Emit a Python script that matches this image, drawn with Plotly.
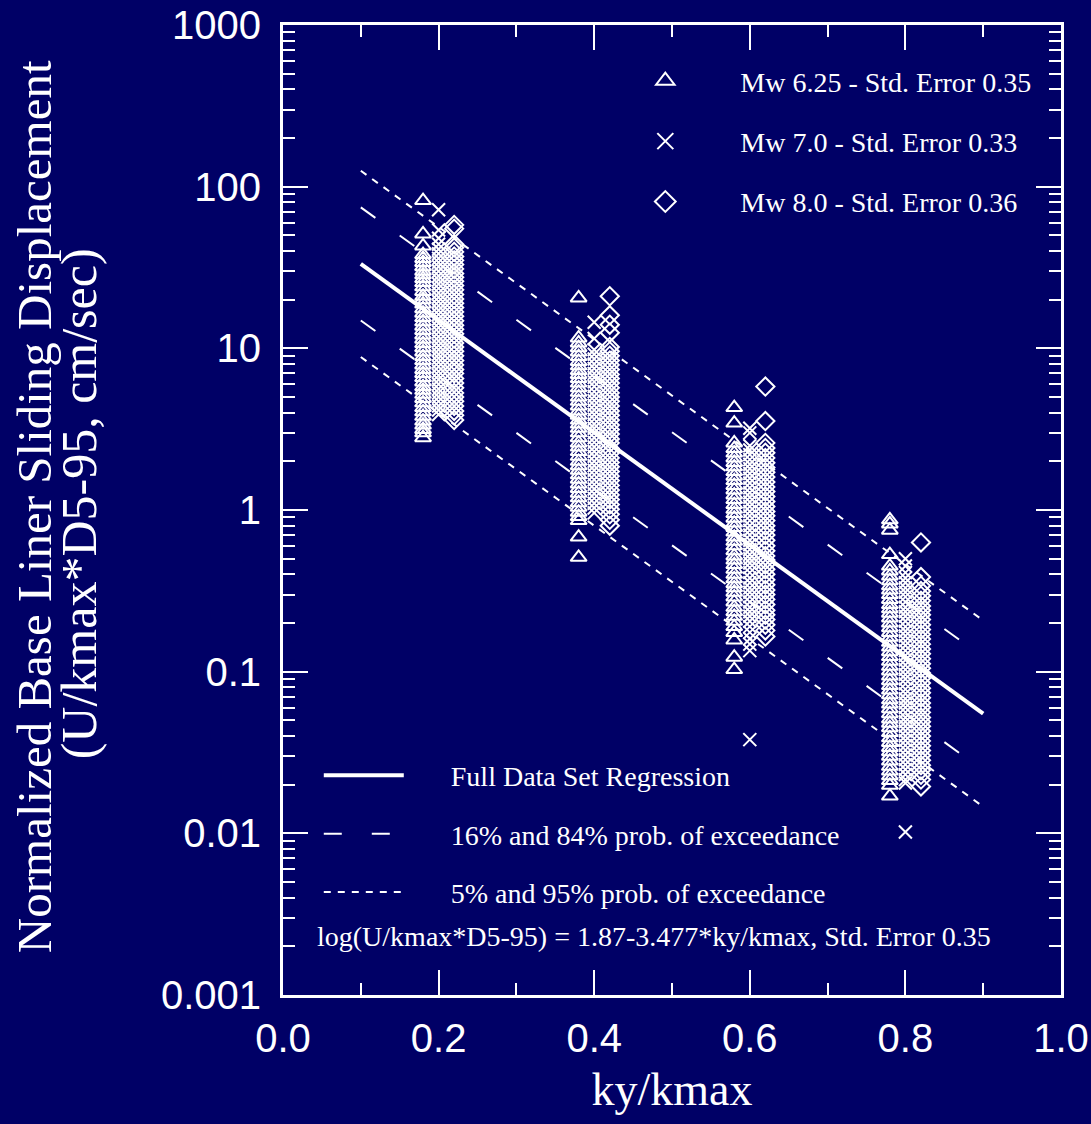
import plotly.graph_objects as go

# ---------------- data ----------------
# Mw 6.25 (triangles)
x_mw625 = [0.18, 0.38, 0.58, 0.78]
y_mw625 = [
    [82, 51, 43, 38, 36, 34, 32, 30, 28.5, 27, 25.5, 24, 22.5, 21, 20, 18.8, 17.6, 16.5, 15.5,
     14.6, 13.7, 12.9, 12.1, 11.4, 10.7, 10.1, 9.5, 8.9, 8.4, 7.9, 7.4, 7.0, 6.6, 6.2, 5.8, 5.5,
     5.2, 4.9, 4.6, 4.3, 4.05, 3.8, 3.55, 3.35, 3.15, 3.0, 2.8],
    [20.5, 11.6, 10.8, 10.1, 9.5, 8.9, 8.3, 7.8, 7.3, 6.9, 6.5, 6.1, 5.7, 5.35, 5.0, 4.7, 4.4,
     4.1, 3.85, 3.6, 3.4, 3.2, 3.0, 2.8, 2.6, 2.45, 2.3, 2.15, 2.0, 1.88, 1.76, 1.65, 1.55, 1.45,
     1.36, 1.27, 1.19, 1.11, 1.04, 0.97, 0.91, 0.86, 0.68, 0.51],
    [4.3, 3.45, 2.6, 2.4, 2.25, 2.1, 1.97, 1.85, 1.73, 1.62, 1.52, 1.42, 1.33, 1.24, 1.16, 1.08,
     1.01, 0.95, 0.89, 0.83, 0.78, 0.73, 0.68, 0.64, 0.6, 0.56, 0.52, 0.49, 0.46, 0.43, 0.4,
     0.375, 0.35, 0.33, 0.31, 0.29, 0.27, 0.25, 0.235, 0.22, 0.205, 0.19, 0.175, 0.157, 0.123,
     0.103],
    [0.87, 0.82, 0.75, 0.53, 0.45, 0.42, 0.39, 0.365, 0.34, 0.32, 0.3, 0.28, 0.26, 0.245, 0.23,
     0.215, 0.2, 0.187, 0.175, 0.163, 0.152, 0.142, 0.133, 0.124, 0.116, 0.108, 0.101, 0.094,
     0.088, 0.082, 0.077, 0.072, 0.067, 0.063, 0.059, 0.055, 0.051, 0.048, 0.045, 0.042, 0.039,
     0.0365, 0.034, 0.032, 0.03, 0.028, 0.026, 0.0243, 0.0227, 0.0212, 0.0198, 0.017],
]
# Mw 7.0 (crosses)
x_mw70 = [0.20, 0.40, 0.60, 0.80]
y_mw70 = [
    [72, 54, 48, 44, 41, 38.5, 36, 34, 32, 30, 28, 26.5, 25, 23.5, 22, 20.7, 19.5, 18.3, 17.2,
     16.2, 15.2, 14.3, 13.4, 12.6, 11.8, 11.1, 10.4, 9.8, 9.2, 8.7, 8.2, 7.7, 7.2, 6.8, 6.4, 6.0,
     5.6, 5.3, 5.0, 4.7, 4.4, 4.15, 3.9],
    [14.5, 11.5, 9.8, 9.2, 8.6, 8.0, 7.5, 7.0, 6.6, 6.2, 5.8, 5.4, 5.05, 4.75, 4.45, 4.15, 3.9,
     3.65, 3.4, 3.2, 3.0, 2.8, 2.62, 2.45, 2.3, 2.15, 2.0, 1.88, 1.76, 1.65, 1.54, 1.44, 1.35,
     1.26, 1.18, 1.1, 1.03, 0.96],
    [3.2, 3.0, 2.5, 2.35, 2.2, 2.05, 1.92, 1.8, 1.68, 1.57, 1.47, 1.37, 1.28, 1.2, 1.12, 1.05,
     0.98, 0.92, 0.86, 0.8, 0.75, 0.7, 0.65, 0.61, 0.57, 0.53, 0.5, 0.47, 0.44, 0.41, 0.38,
     0.355, 0.33, 0.31, 0.29, 0.27, 0.25, 0.235, 0.22, 0.205, 0.19, 0.175, 0.16, 0.148, 0.135,
     0.038],
    [0.5, 0.45, 0.41, 0.38, 0.355, 0.33, 0.31, 0.29, 0.27, 0.25, 0.235, 0.22, 0.205, 0.19, 0.178,
     0.166, 0.155, 0.145, 0.135, 0.126, 0.118, 0.11, 0.103, 0.096, 0.09, 0.084, 0.078, 0.073,
     0.068, 0.064, 0.06, 0.056, 0.052, 0.049, 0.046, 0.043, 0.04, 0.0375, 0.035, 0.0327, 0.0305,
     0.0285, 0.0266, 0.0248, 0.0231, 0.0215, 0.0205, 0.0102],
]
# Mw 8.0 (diamonds)
x_mw80 = [0.22, 0.42, 0.62, 0.82]
y_mw80 = [
    [58, 55, 44, 42, 39.5, 37, 35, 33, 31, 29, 27.5, 26, 24.5, 23, 21.5, 20.2, 19, 17.9, 16.8,
     15.8, 14.8, 13.9, 13.1, 12.3, 11.5, 10.8, 10.2, 9.6, 9.0, 8.4, 7.9, 7.4, 7.0, 6.5, 6.1, 5.7,
     5.3, 5.0, 4.7, 4.4, 4.1, 3.85, 3.6],
    [21, 16, 14, 12.5, 10.2, 9.6, 9.0, 8.4, 7.9, 7.4, 6.9, 6.5, 6.1, 5.7, 5.3, 5.0, 4.7, 4.4,
     4.1, 3.85, 3.6, 3.35, 3.15, 2.95, 2.75, 2.6, 2.4, 2.25, 2.1, 1.97, 1.85, 1.73, 1.62, 1.52,
     1.42, 1.33, 1.24, 1.16, 1.08, 1.01, 0.94, 0.87, 0.8],
    [5.8, 3.55, 2.6, 2.42, 2.26, 2.1, 1.96, 1.83, 1.71, 1.6, 1.49, 1.39, 1.3, 1.21, 1.13, 1.05,
     0.98, 0.92, 0.86, 0.8, 0.75, 0.7, 0.65, 0.6, 0.56, 0.52, 0.49, 0.46, 0.43, 0.4, 0.37, 0.345,
     0.32, 0.3, 0.28, 0.26, 0.24, 0.225, 0.21, 0.195, 0.18, 0.165],
    [0.63, 0.385, 0.34, 0.315, 0.295, 0.275, 0.255, 0.24, 0.225, 0.21, 0.195, 0.182, 0.17, 0.159,
     0.148, 0.138, 0.129, 0.12, 0.112, 0.105, 0.098, 0.091, 0.085, 0.079, 0.074, 0.069, 0.064,
     0.06, 0.056, 0.052, 0.049, 0.046, 0.043, 0.04, 0.0373, 0.0348, 0.0325, 0.0303, 0.0283,
     0.0264, 0.0246, 0.023, 0.0215, 0.0195],
]

# regression and probability bands (end points, x = 0.1 and 0.9)
line_x = [0.1, 0.9]
reg_y = [33.29, 0.0550]
p84_y = [74.5, 0.1232]
p16_y = [14.87, 0.02458]
p95_y = [125.4, 0.2073]
p05_y = [8.84, 0.01462]

y_tickvals = [0.001, 0.01, 0.1, 1, 10, 100, 1000]
y_ticktext = ["0.001", "0.01", "0.1", "1", "10", "100", "1000"]

series_names = ["Mw 6.25 - Std. Error 0.35", "Mw 7.0 - Std. Error 0.33", "Mw 8.0 - Std. Error 0.36"]
line_names = ["Full Data Set Regression", "16% and 84% prob. of exceedance",
              "5% and 95% prob. of exceedance"]
equation = "log(U/kmax*D5-95) = 1.87-3.477*ky/kmax, Std. Error 0.35"
y_title_lines = ["Normalized Base Liner Sliding Displacement", "(U/kmax*D5-95, cm/sec)"]
x_title = "ky/kmax"

# ---------------- figure ----------------
BG = "#000066"
SERIF = "Liberation Serif, Times New Roman, serif"
SANS = "Liberation Sans, Arial, sans-serif"
PAD = "\u00a0" * 6


def expand(xs, ys):
    X, Y = [], []
    for x, col in zip(xs, ys):
        X += [x] * len(col)
        Y += col
    return X, Y


fig = go.Figure()
symbols = ["triangle-up-open", "x-thin-open", "diamond-open"]
sizes = [14, 13, 14]
for i, (xs, ys) in enumerate([(x_mw625, y_mw625), (x_mw70, y_mw70), (x_mw80, y_mw80)]):
    X, Y = expand(xs, ys)
    fig.add_trace(go.Scatter(
        x=X, y=Y, mode="markers", name=series_names[i], legendgroup=f"g{i}", legend="legend",
        showlegend=False,
        marker=dict(symbol=symbols[i], size=sizes[i], color="white",
                    line=dict(color="white", width=2)),
    ))
    # legend key (same series, larger symbol in the key)
    fig.add_trace(go.Scatter(
        x=[None], y=[None], mode="markers", name=series_names[i], legendgroup=f"g{i}",
        legend="legend",
        marker=dict(symbol=symbols[i], size=30, color="white",
                    line=dict(color="white", width=2)),
    ))

fig.add_trace(go.Scatter(x=line_x, y=reg_y, mode="lines", name=PAD + line_names[0],
                         legend="legend2", legendgroup="r",
                         line=dict(color="white", width=4)))
fig.add_trace(go.Scatter(x=line_x, y=p84_y, mode="lines", name=PAD + line_names[1],
                         legend="legend2", legendgroup="a",
                         line=dict(color="white", width=2, dash="18px,30px")))
fig.add_trace(go.Scatter(x=line_x, y=p16_y, mode="lines", showlegend=False, legendgroup="a",
                         line=dict(color="white", width=2, dash="18px,30px")))
fig.add_trace(go.Scatter(x=line_x, y=p95_y, mode="lines", name=PAD + line_names[2],
                         legend="legend2", legendgroup="b",
                         line=dict(color="white", width=2, dash="7px,7px")))
fig.add_trace(go.Scatter(x=line_x, y=p05_y, mode="lines", showlegend=False, legendgroup="b",
                         line=dict(color="white", width=2, dash="7px,7px")))

axis_common = dict(
    showline=True, linecolor="white", linewidth=3, mirror="ticks",
    ticks="inside", tickcolor="white", tickwidth=2, ticklen=25,
    showgrid=False, zeroline=False,
    tickfont=dict(family=SANS, size=40, color="white"),
)

fig.update_xaxes(
    range=[0, 1], dtick=0.2, tick0=0, tickformat=".1f",
    minor=dict(ticks="inside", ticklen=12, tickwidth=2, tickcolor="white", dtick=0.1, showgrid=False),
    title=dict(text=x_title, font=dict(family=SERIF, size=46, color="white"), standoff=14),
    ticklabelstandoff=6,
    **axis_common,
)
fig.update_yaxes(
    type="log", range=[-3, 3], tickvals=y_tickvals, ticktext=y_ticktext,
    minor=dict(ticks="inside", ticklen=12, tickwidth=2, tickcolor="white", dtick="D1", showgrid=False),
    ticklabelstandoff=11,
    **axis_common,
)

fig.update_layout(
    width=1091, height=1124,
    margin=dict(l=283, r=30, t=25, b=129, autoexpand=False),
    paper_bgcolor=BG, plot_bgcolor=BG,
    showlegend=True,
    legend=dict(x=0.395, y=0.968, xanchor="left", yanchor="top", bgcolor="rgba(0,0,0,0)",
                font=dict(family=SERIF, size=28, color="white"), traceorder="grouped",
                tracegroupgap=21, itemwidth=140, itemsizing="trace"),
    legend2=dict(x=0.046, y=0.252, xanchor="left", yanchor="top", bgcolor="rgba(0,0,0,0)",
                 font=dict(family=SERIF, size=28, color="white"), traceorder="grouped",
                 tracegroupgap=19, itemwidth=80),
    annotations=[
        dict(text=equation, xref="paper", yref="paper", x=0.477, y=0.06,
             xanchor="center", yanchor="middle", showarrow=False,
             font=dict(family=SERIF, size=28, color="white")),
        dict(text=y_title_lines[0], xref="paper", yref="paper", x=-0.32, y=0.503,
             xanchor="center", yanchor="middle", showarrow=False, textangle=-90,
             font=dict(family=SERIF, size=49, color="white")),
        dict(text=y_title_lines[1], xref="paper", yref="paper", x=-0.262, y=0.506,
             xanchor="center", yanchor="middle", showarrow=False, textangle=-90,
             font=dict(family=SERIF, size=50, color="white")),
    ],
)

fig.write_html("out.html")
